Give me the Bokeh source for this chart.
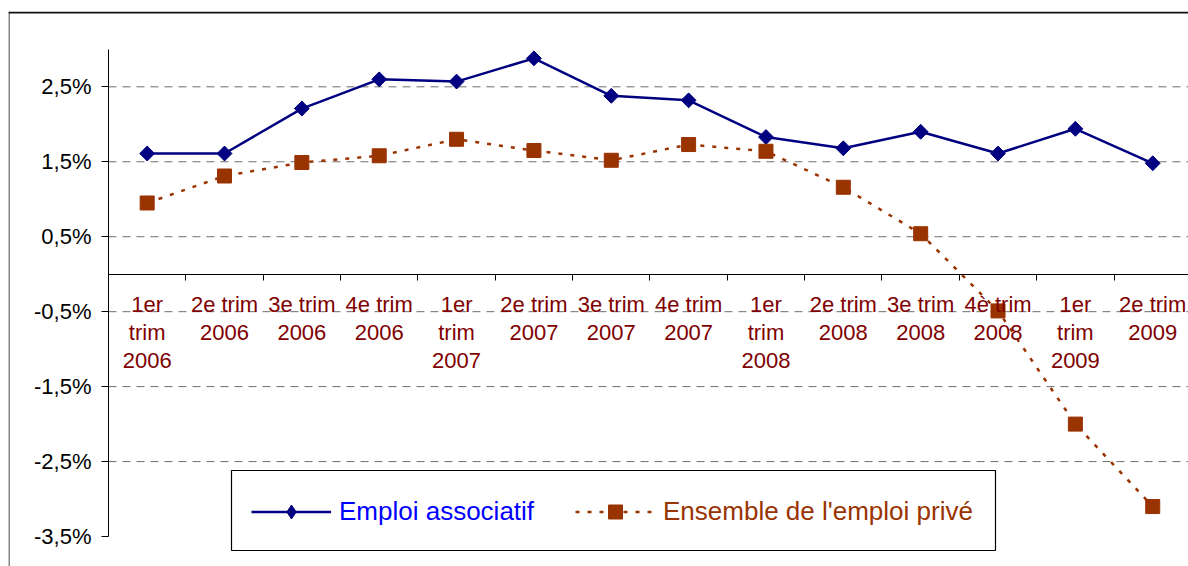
import math
from bokeh.plotting import figure
from bokeh.models import (Range1d, FixedTicker, LinearAxis, Legend, LegendItem,
                          BoxAnnotation, Span)
from bokeh.embed import file_html
from bokeh.resources import INLINE

# ---- data -------------------------------------------------------------
categories = ["1er\ntrim\n2006", "2e trim\n2006", "3e trim\n2006", "4e trim\n2006",
              "1er\ntrim\n2007", "2e trim\n2007", "3e trim\n2007", "4e trim\n2007",
              "1er\ntrim\n2008", "2e trim\n2008", "3e trim\n2008", "4è trim\n2008",
              "1er\ntrim\n2009", "2e trim\n2009"]
emploi_associatif = [1.61, 1.61, 2.21, 2.60, 2.57, 2.88, 2.38, 2.32,
                     1.83, 1.68, 1.90, 1.61, 1.94, 1.48]
emploi_prive = [0.95, 1.31, 1.49, 1.58, 1.80, 1.65, 1.52, 1.73,
                1.64, 1.16, 0.54, -0.49, -2.00, -3.10]
y_ticks = [-3.5, -2.5, -1.5, -0.5, 0.5, 1.5, 2.5]
y_tick_labels = ["-3,5%", "-2,5%", "-1,5%", "-0,5%", "0,5%", "1,5%", "2,5%"]
grid_ticks = [-2.5, -1.5, -0.5, 0.5, 1.5, 2.5]
series_names = ["Emploi associatif", "Ensemble de l'emploi privé"]

x = list(range(len(categories)))
FONT = "Liberation Sans"
X_START, X_END = -1.7928, 13.4625
Y_START, Y_END = -3.900, 3.505

p = figure(width=1188, height=566,
           x_range=Range1d(X_START, X_END), y_range=Range1d(Y_START, Y_END),
           output_backend="svg", toolbar_location=None,
           x_axis_location=None, y_axis_location=None,
           min_border_left=8, min_border_right=0,
           min_border_top=11, min_border_bottom=0)
p.outline_line_color = None
p.background_fill_color = "white"
p.border_fill_color = "white"
p.xgrid.visible = False
p.ygrid.visible = False

# horizontal dashed gridlines (from the y axis to the right edge)
n = len(grid_ticks)
p.segment(x0=[-0.5] * n, y0=grid_ticks, x1=[X_END] * n, y1=grid_ticks,
          line_color="#6e6e6e", line_width=1, line_dash="8 6")

# y axis (fixed at the left category boundary)
ya = LinearAxis(fixed_location=-0.5, bounds=(-3.5, 3.0),
                ticker=FixedTicker(ticks=y_ticks),
                major_label_overrides={t: l for t, l in zip(y_ticks, y_tick_labels)},
                minor_tick_line_color=None, major_tick_in=0, major_tick_out=7,
                major_label_standoff=10, axis_line_color="black",
                major_tick_line_color="black",
                major_label_text_font=FONT, major_label_text_font_size="22px",
                major_label_text_color="black")
p.add_layout(ya, "left")

# x axis at zero: boundary ticks
xa = LinearAxis(fixed_location=0, bounds=(-0.5, X_END),
                ticker=FixedTicker(ticks=[i + 0.5 for i in x[:-1]]),
                major_label_text_color=None,
                major_tick_in=0, major_tick_out=6,
                minor_tick_line_color=None,
                axis_line_color="black", major_tick_line_color="black")
p.add_layout(xa, "below")

# x axis at zero: category labels
xl = LinearAxis(fixed_location=0,
                ticker=FixedTicker(ticks=x),
                major_label_overrides={i: c for i, c in zip(x, categories)},
                axis_line_color=None, major_tick_line_color=None,
                minor_tick_line_color=None,
                major_tick_in=0, major_tick_out=0,
                major_label_standoff=18,
                major_label_text_font=FONT,
                major_label_text_font_size="22px",
                major_label_text_color="#800000",
                major_label_text_line_height=1.12)
p.add_layout(xl, "below")

# series
l1 = p.line(x, emploi_associatif, line_color="#000080", line_width=2.5)
# diamond symbol used for the legend (hidden beneath the rotated squares)
s1_leg = p.scatter(x, emploi_associatif, marker="diamond", size=14,
                   fill_color="#000080", line_color="#000080")
s1 = p.scatter(x, emploi_associatif, marker="square", angle=math.pi / 4, size=10.5,
               fill_color="#000080", line_color="#000080")
l2 = p.line(x, emploi_prive, line_color="#993300", line_width=2.5, line_dash="4 8")
s2 = p.scatter(x, emploi_prive, marker="square", size=14,
               fill_color="#993300", line_color="#993300")

# outer chart border (left and top edges)
p.add_layout(Span(location=8.5, location_units="canvas", dimension="height",
                  line_color="#111111", line_width=1))
p.add_layout(Span(location=12, location_units="canvas", dimension="width",
                  line_color="#111111", line_width=2))

# legend box
legbox = BoxAnnotation(left=231, right=995, top=470, bottom=550,
                       left_units="canvas", right_units="canvas",
                       top_units="canvas", bottom_units="canvas",
                       fill_color="white", fill_alpha=1,
                       line_color="black", line_alpha=1, line_width=1.2)
p.add_layout(legbox)


def make_legend(label, rends, loc, color):
    return Legend(items=[LegendItem(label=label, renderers=rends)],
                  location=loc, orientation="horizontal",
                  border_line_color=None, background_fill_alpha=0,
                  padding=0, margin=0, spacing=0,
                  glyph_width=80, glyph_height=35, label_height=35,
                  label_standoff=8, label_text_font=FONT,
                  label_text_font_size="26px", label_text_color=color,
                  label_text_baseline="middle")


p.add_layout(make_legend(series_names[0], [l1, s1_leg], (243, 37.5), "#0000FF"))
p.add_layout(make_legend(series_names[1], [l2, s2], (567, 37.5), "#993300"))

open("out.html", "w").write(file_html(p, INLINE))
